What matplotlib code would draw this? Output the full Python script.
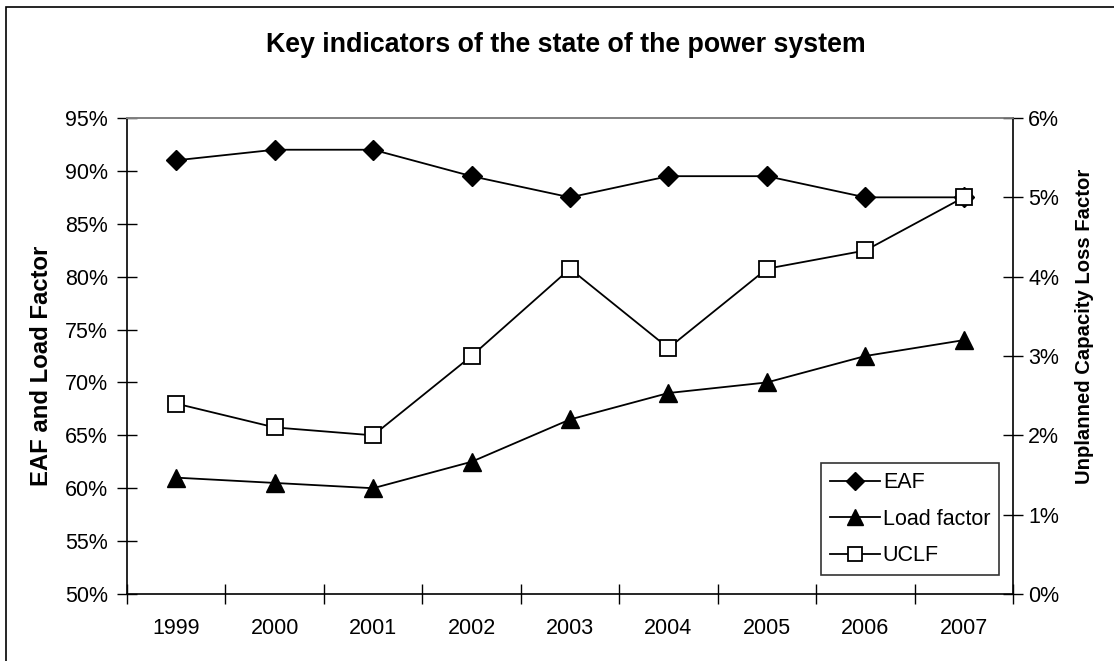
import matplotlib
matplotlib.use("Agg")
import matplotlib.pyplot as plt
from matplotlib import font_manager
from matplotlib.patches import Rectangle
from matplotlib.ticker import FuncFormatter, FixedLocator

plt.rcParams['font.family'] = ['Liberation Sans', 'DejaVu Sans']

years = ['1999', '2000', '2001', '2002', '2003', '2004', '2005', '2006', '2007']
eaf = [91.0, 92.0, 92.0, 89.5, 87.5, 89.5, 89.5, 87.5, 87.5]
load_factor = [61.0, 60.5, 60.0, 62.5, 66.5, 69.0, 70.0, 72.5, 74.0]
uclf = [2.4, 2.1, 2.0, 3.0, 4.1, 3.1, 4.1, 4.33, 5.0]

W, H = 1114, 661
fig = plt.figure(figsize=(W / 100, H / 100), dpi=100)
fig.patch.set_facecolor('white')

# outer chart frame (runs past the right and bottom edges)
fig.add_artist(Rectangle((6 / W, -1.0), 2.0, 2.0 - 7 / H, transform=fig.transFigure,
                         fill=False, edgecolor='black', linewidth=1.2))

left, right, top, bottom = 127, 1013, 118, 594
ax = fig.add_axes([left / W, 1 - bottom / H, (right - left) / W, (bottom - top) / H])
ax2 = ax.twinx()

x = list(range(len(years)))
fs = 15.5
lw = 1.3

l1, = ax.plot(x, eaf, color='black', lw=lw, marker='D', ms=10.5,
              markerfacecolor='black', markeredgecolor='black', label='EAF', zorder=3)
l2, = ax.plot(x, load_factor, color='black', lw=lw, marker='^', ms=12.5,
              markerfacecolor='black', markeredgecolor='black', label='Load factor', zorder=3)
l3, = ax2.plot(x, uclf, color='black', lw=lw, marker='s', ms=11,
               markerfacecolor='white', markeredgecolor='black', markeredgewidth=1.3,
               label='UCLF', zorder=4)

ax.set_xlim(-0.5, len(years) - 0.5)
ax.set_ylim(50, 95)
ax2.set_ylim(0, 6)

ax.set_yticks([50, 55, 60, 65, 70, 75, 80, 85, 90, 95])
ax.yaxis.set_major_formatter(FuncFormatter(lambda v, p: f'{v:.0f}%'))
ax2.set_yticks([0, 1, 2, 3, 4, 5, 6])
ax2.yaxis.set_major_formatter(FuncFormatter(lambda v, p: f'{v:.0f}%'))

# category labels centred, tick marks between categories
ax.set_xticks(x)
ax.set_xticklabels(years)
ax.xaxis.set_minor_locator(FixedLocator([i - 0.5 for i in range(len(years) + 1)]))
ax.tick_params(axis='x', which='major', length=0, labelsize=fs, pad=17)
ax.tick_params(axis='x', which='minor', direction='inout', length=14, width=1)
ax.tick_params(axis='y', direction='inout', length=14, width=1, labelsize=fs, pad=6.5)
ax2.tick_params(axis='y', direction='inout', length=14, width=1, labelsize=fs, pad=4)

for a in (ax, ax2):
    a.spines['top'].set_color('#808080')
    a.spines['top'].set_linewidth(1.2)
    for s in ('left', 'right', 'bottom'):
        a.spines[s].set_color('black')
        a.spines[s].set_linewidth(1.2)
ax.spines['right'].set_visible(False)
ax2.spines['left'].set_visible(False)
ax2.spines['bottom'].set_visible(False)

fig.text(566 / W, 1 - 45 / H, 'Key indicators of the state of the power system',
         ha='center', va='center', fontsize=19.3, fontweight='bold')
fig.text(42 / W, 1 - 366 / H, 'EAF and Load Factor', rotation=90,
         ha='center', va='center', fontsize=17.2, fontweight='bold')

# the secondary axis title is set in a condensed face when one is available
narrow_names = {f.name for f in font_manager.fontManager.ttflist}
if 'Liberation Sans Narrow' in narrow_names:
    rfam, rsize = 'Liberation Sans Narrow', 17.6
else:
    rfam, rsize = 'Liberation Sans', 14.6
fig.text(1085 / W, 1 - 326 / H, 'Unplanned Capacity Loss Factor', rotation=90,
         ha='center', va='center', fontsize=rsize, fontweight='bold', family=rfam)

leg = ax2.legend(handles=[l1, l2, l3], loc='upper left',
                 bbox_to_anchor=(821 / W, 1 - 463 / H), bbox_transform=fig.transFigure,
                 fontsize=fs, frameon=True, fancybox=False, shadow=False,
                 handlelength=2.3, handletextpad=0.15, labelspacing=0.72,
                 borderpad=0.42, borderaxespad=0, markerscale=0.9)
leg.get_frame().set_edgecolor('black')
leg.get_frame().set_linewidth(1.2)

fig.savefig('out.png', dpi=100)
